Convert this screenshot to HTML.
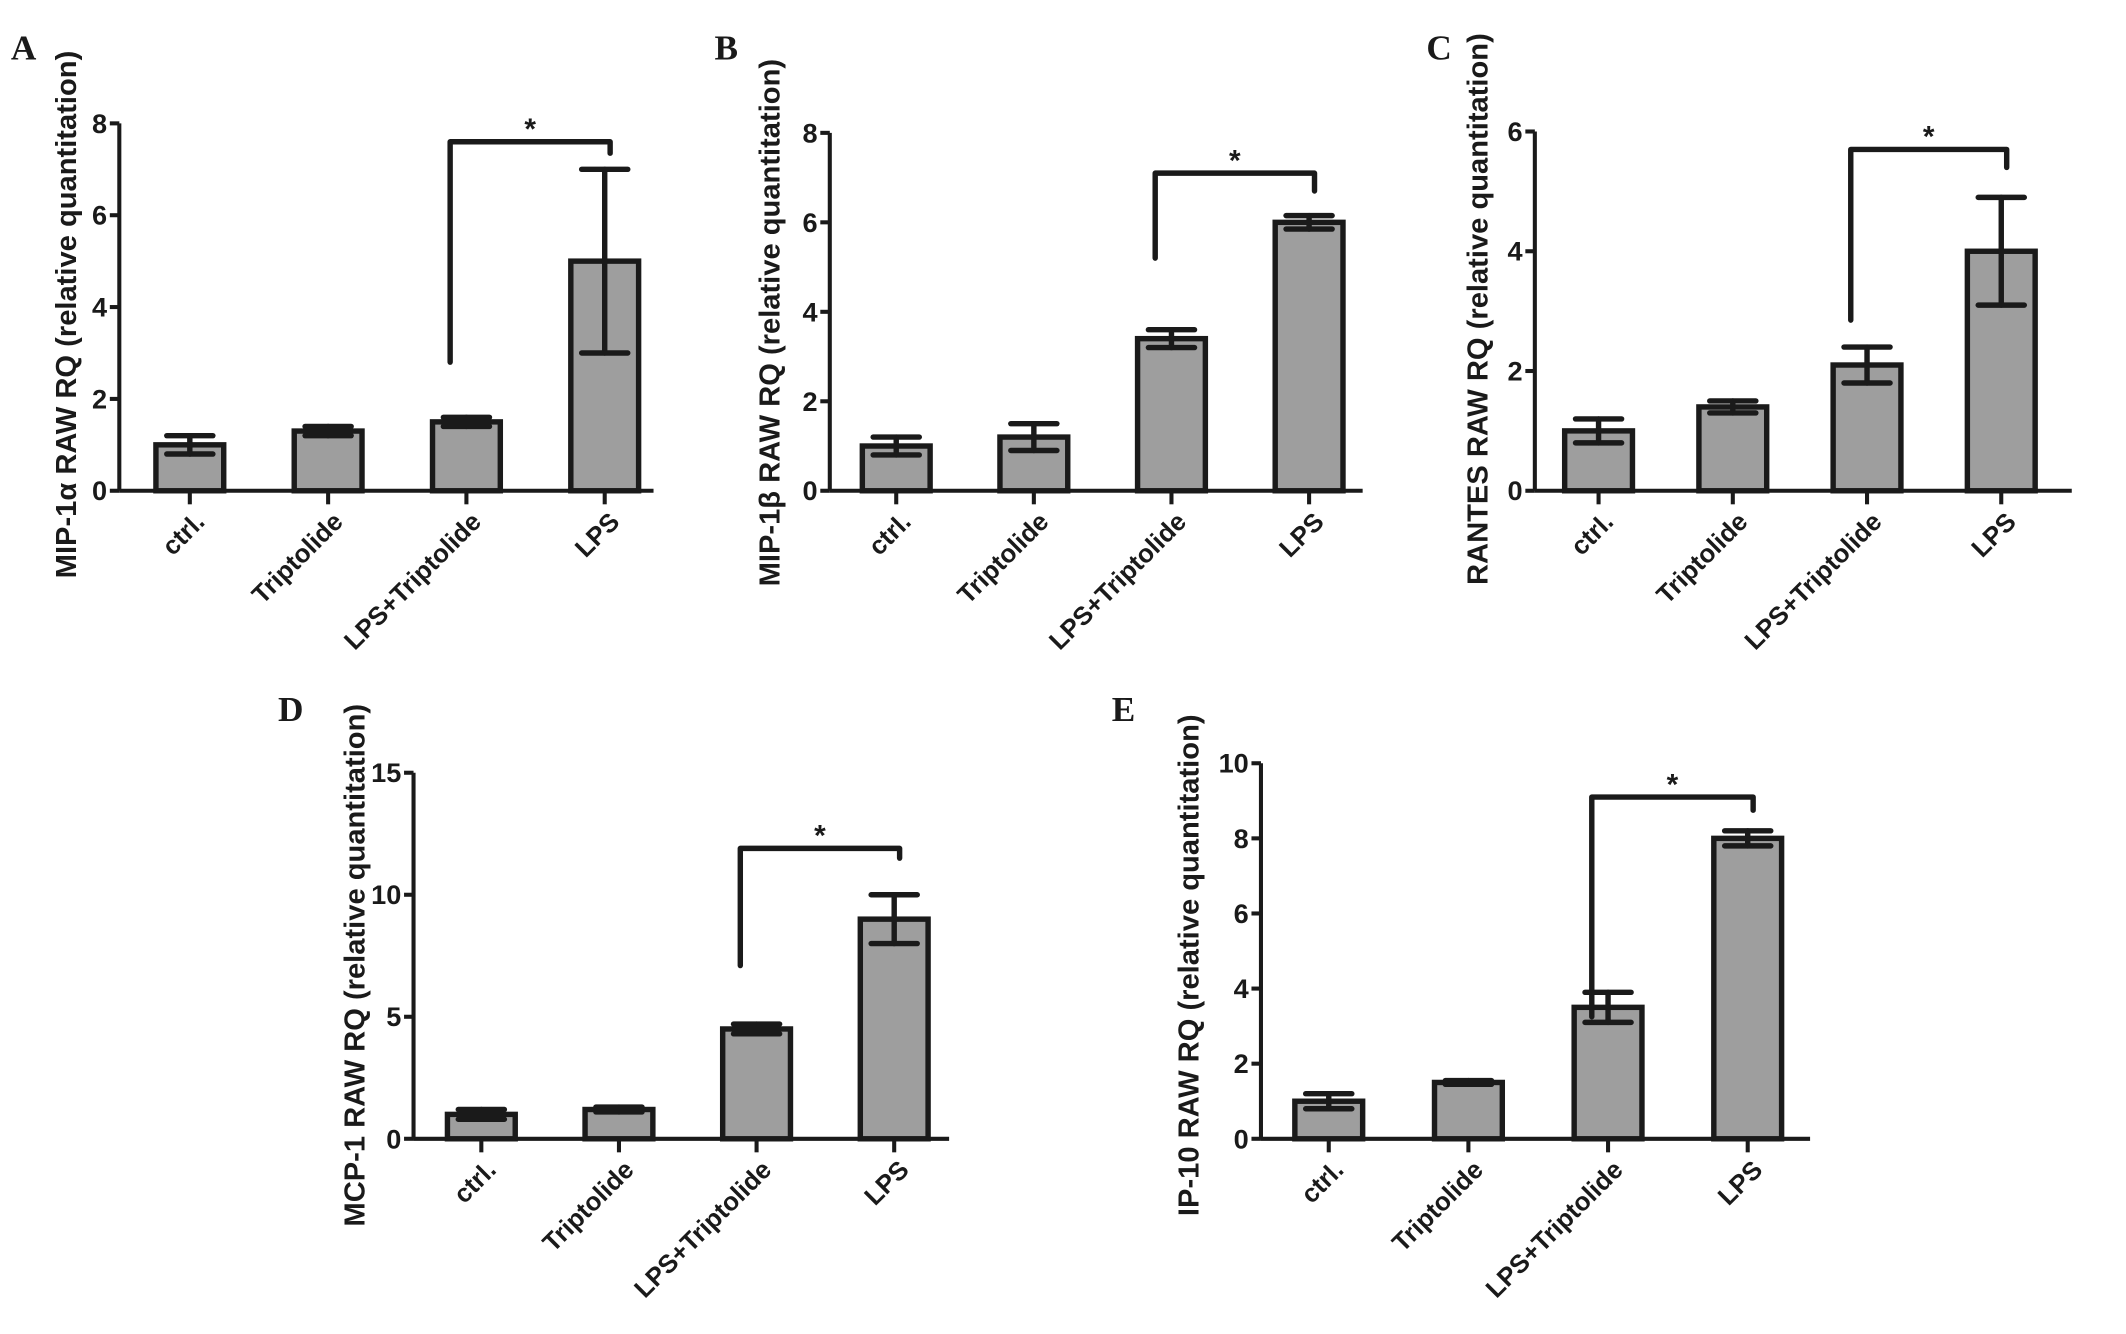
<!DOCTYPE html>
<html><head><meta charset="utf-8"><style>
html,body{margin:0;padding:0;background:#fff;}
svg{display:block;}
text{font-family:"Liberation Sans",Arial,sans-serif;font-weight:bold;fill:#1a1a1a;}
.pl{font-family:"Liberation Serif",serif;font-size:26px;}
</style></head><body>
<svg id="fig" width="2126" height="1334" viewBox="0 0 1568 984" preserveAspectRatio="none" xmlns="http://www.w3.org/2000/svg"></svg>
<script>
const categories = ["ctrl.", "Triptolide", "LPS+Triptolide", "LPS"];
const valuesA = [1.0, 1.3, 1.5, 5.0];
const errorsA = [0.2, 0.1, 0.1, 2.0];
const ticksA = [0, 2, 4, 6, 8];
const bracketA = [2.8, 7.6, 7.35];
const valuesB = [1.0, 1.2, 3.4, 6.0];
const errorsB = [0.2, 0.3, 0.2, 0.15];
const ticksB = [0, 2, 4, 6, 8];
const bracketB = [5.2, 7.1, 6.7];
const valuesC = [1.0, 1.4, 2.1, 4.0];
const errorsC = [0.2, 0.1, 0.3, 0.9];
const ticksC = [0, 2, 4, 6];
const bracketC = [2.85, 5.7, 5.4];
const valuesD = [1.0, 1.2, 4.5, 9.0];
const errorsD = [0.2, 0.1, 0.2, 1.0];
const ticksD = [0, 5, 10, 15];
const bracketD = [7.1, 11.9, 11.5];
const valuesE = [1.0, 1.5, 3.5, 8.0];
const errorsE = [0.2, 0.05, 0.4, 0.2];
const ticksE = [0, 2, 4, 6, 8, 10];
const bracketE = [3.25, 9.1, 8.75];

const NS = "http://www.w3.org/2000/svg";
const svg = document.getElementById("fig");
function mk(tag, attrs, parent) {
  const e = document.createElementNS(NS, tag);
  for (const k in attrs) e.setAttribute(k, attrs[k]);
  (parent || svg).appendChild(e);
  return e;
}
function panel(p) {
  const g = mk("g", {});
  
  
  const ymax = p.ticks[p.ticks.length - 1];
  const y = v => p.y0 - (v / ymax) * (p.y0 - p.yTop);
  const x = i => p.x0 + p.first + i * p.step;
  const lbl = mk("text", {x: p.lx, y: p.ly, class: "pl"}, g);
  lbl.textContent = p.id;
  
  
  const t = mk("text", {x: 0, y: 0, "font-size": 21.5, "text-anchor": "middle", transform: `translate(${p.tx},${p.ty}) rotate(-90)`}, g);
  t.textContent = p.title;
  
  
  p.values.forEach((v, i) => {
    const r = mk("rect", {x: x(i) - 25, y: y(v), width: 50, height: p.y0 - y(v), fill: "#9e9e9e", stroke: "#1a1a1a", "stroke-width": 4}, g);
    
    
    const e = p.errors[i];
    const eg = mk("g", {stroke: "#1a1a1a", "stroke-width": 4, "stroke-linecap": "round"}, g);
    
    
    mk("line", {x1: x(i), x2: x(i), y1: y(v + e), y2: y(v - e)}, eg);
    mk("line", {x1: x(i) - 17, x2: x(i) + 17, y1: y(v + e), y2: y(v + e)}, eg);
    mk("line", {x1: x(i) - 17, x2: x(i) + 17, y1: y(v - e), y2: y(v - e)}, eg);
  });
  const ax = mk("g", {stroke: "#1a1a1a", "stroke-width": 3}, g);
  
  
  mk("line", {x1: p.x0, x2: p.x0, y1: p.yTop, y2: p.y0}, ax);
  mk("line", {x1: p.x0, x2: p.xEnd, y1: p.y0, y2: p.y0}, ax);
  p.ticks.forEach(tv => {
    mk("line", {x1: p.x0 - 7, x2: p.x0, y1: y(tv), y2: y(tv)}, ax);
    const tl = mk("text", {x: p.x0 - 9, y: y(tv) + 7, "font-size": 20, "text-anchor": "end"}, g);
    tl.textContent = tv;
    
    
  });
  categories.forEach((c, i) => {
    mk("line", {x1: x(i), x2: x(i), y1: p.y0, y2: p.y0 + 10}, ax);
    const cl = mk("text", {x: 0, y: 0, "font-size": 19, "text-anchor": "end", transform: `translate(${x(i) + 12},${p.y0 + 24}) rotate(-45)`}, g);
    cl.textContent = c;
    
    
  });
  const b = p.bracket;
  const bx1 = x(2) - 12, bx2 = x(3) + 4;
  const br = mk("path", {d: `M${bx1},${y(b[0])} V${y(b[1])} H${bx2} V${y(b[2])}`, fill: "none", stroke: "#1a1a1a", "stroke-width": 4, "stroke-linecap": "round", "stroke-linejoin": "round"}, g);
  
  
  const st = mk("text", {x: (bx1 + bx2) / 2, y: y(b[1]) - 2, "font-size": 22, "text-anchor": "middle"}, g);
  st.textContent = "*";
  
  
}
panel({id: "A", values: valuesA, errors: errorsA, ticks: ticksA, bracket: bracketA, x0: 88, y0: 362, yTop: 91, xEnd: 482, first: 52, step: 102, lx: 8, ly: 44, tx: 56, ty: 232, title: "MIP-1α RAW  RQ (relative quantitation)"});
panel({id: "B", values: valuesB, errors: errorsB, ticks: ticksB, bracket: bracketB, x0: 612, y0: 362, yTop: 98, xEnd: 1005, first: 49, step: 101.5, lx: 527, ly: 44, tx: 575, ty: 238, title: "MIP-1β RAW  RQ (relative quantitation)"});
panel({id: "C", values: valuesC, errors: errorsC, ticks: ticksC, bracket: bracketC, x0: 1132, y0: 362, yTop: 97, xEnd: 1528, first: 47, step: 99, lx: 1052, ly: 44, tx: 1097, ty: 228, title: "RANTES RAW  RQ (relative quantitation)"});
panel({id: "D", values: valuesD, errors: errorsD, ticks: ticksD, bracket: bracketD, x0: 305, y0: 840, yTop: 570, xEnd: 700, first: 50, step: 101.5, lx: 205, ly: 532, tx: 269, ty: 712, title: "MCP-1 RAW  RQ (relative quantitation)"});
panel({id: "E", values: valuesE, errors: errorsE, ticks: ticksE, bracket: bracketE, x0: 930, y0: 840, yTop: 563, xEnd: 1335, first: 50, step: 103, lx: 820, ly: 532, tx: 884, ty: 712, title: "IP-10 RAW RQ (relative quantitation)"});
</script>
</body></html>
